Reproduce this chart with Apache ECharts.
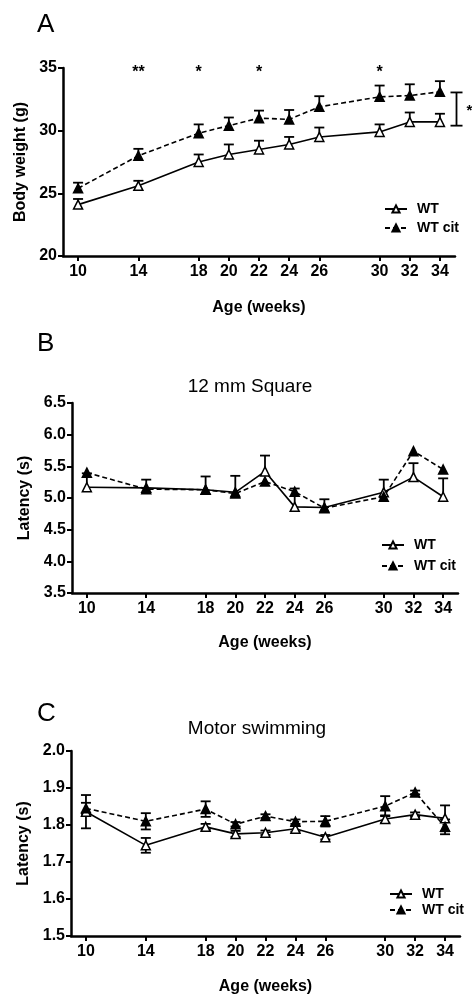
<!DOCTYPE html>
<html>
<head>
<meta charset="utf-8">
<script src="https://cdn.jsdelivr.net/npm/echarts@6/dist/echarts.min.js"></script>
<style>
  html, body { margin: 0; padding: 0; background: #fff; }
  #main { width: 472px; height: 997px; }
</style>
</head>
<body>
<div id="main"></div>
<script>
// ages (weeks)
var weeks = [10, 14, 18, 20, 22, 24, 26, 30, 32, 34];

// A: body weight (g)
var bwWT = [24.1, 25.6, 27.5, 28.1, 28.5, 28.9, 29.5, 29.9, 30.7, 30.7];
var bwWTErr = [0.45, 0.4, 0.6, 0.8, 0.7, 0.6, 0.75, 0.6, 0.75, 0.65];
var bwCit = [25.4, 28.0, 29.8, 30.4, 31.0, 30.9, 31.9, 32.7, 32.8, 33.1];
var bwCitErr = [0.45, 0.55, 0.7, 0.65, 0.6, 0.75, 0.85, 0.9, 0.9, 0.85];
var bwStars = [[14, 34.6, '**'], [18, 34.6, '*'], [22, 34.6, '*'], [30, 34.6, '*']];
var bwBracket = [35.1, 30.4, 33.05];

// B: 12 mm square latency (s)
var sqWT = [5.17, 5.16, 5.13, 5.09, 5.42, 4.86, 4.85, 5.09, 5.33, 5.02];
var sqWTErr = [0.22, 0.13, 0.21, 0.26, 0.25, 0.29, 0.13, 0.2, 0.22, 0.29];
var sqCit = [5.40, 5.14, 5.13, 5.07, 5.26, 5.10, 4.84, 5.02, 5.74, 5.45];
var sqCitErr = [0, 0, 0, 0, 0, 0, 0, 0, 0, 0];

// C: motor swimming latency (s)
var swWT = [1.836, 1.745, 1.795, 1.776, 1.779, 1.790, 1.767, 1.816, 1.828, 1.818];
var swWTErr = [0.045, 0.02, 0.008, 0.008, 0.006, 0.008, 0.006, 0.01, 0.006, 0.035];
var swCit = [1.845, 1.810, 1.843, 1.802, 1.824, 1.809, 1.810, 1.851, 1.888, 1.795];
var swCitErr = [0.015, 0.022, 0.021, 0.006, 0.005, 0.006, 0.014, 0.027, 0.005, 0.02];

var FONT = 'Liberation Sans, Arial, sans-serif';

function pairs(vals) {
  return weeks.map(function (w, i) { return [w, vals[i]]; });
}

function lineSeries(name, vals, idx, filled) {
  return {
    name: name,
    type: 'line',
    xAxisIndex: idx,
    yAxisIndex: idx,
    data: pairs(vals),
    symbol: 'triangle',
    symbolSize: 9,
    z: 5,
    lineStyle: { color: '#000', width: 1.6, type: filled ? [5, 3] : 'solid' },
    itemStyle: { color: filled ? '#000' : '#fff', borderColor: '#000', borderWidth: 1.5 }
  };
}

function errSeries(vals, errs, idx, both) {
  var data = weeks.map(function (w, i) { return [w, vals[i], errs[i]]; });
  return {
    type: 'custom',
    xAxisIndex: idx,
    yAxisIndex: idx,
    z: 3,
    silent: true,
    data: data,
    renderItem: function (params, api) {
      var e = api.value(2);
      if (!e) return null;
      var x = api.value(0), y = api.value(1);
      var top = api.coord([x, y + e]);
      var bot = api.coord([x, both ? y - e : y]);
      var hw = 5;
      var kids = [
        { type: 'line', shape: { x1: top[0], y1: top[1], x2: bot[0], y2: bot[1] } },
        { type: 'line', shape: { x1: top[0] - hw, y1: top[1], x2: top[0] + hw, y2: top[1] } }
      ];
      if (both) {
        kids.push({ type: 'line', shape: { x1: bot[0] - hw, y1: bot[1], x2: bot[0] + hw, y2: bot[1] } });
      }
      kids.forEach(function (k) { k.style = { stroke: '#000', lineWidth: 1.8 }; });
      return { type: 'group', children: kids };
    }
  };
}

function xAxisCfg(idx, gap) {
  return {
    type: 'value', gridIndex: idx, min: 9, max: 35,
    name: 'Age (weeks)', nameLocation: 'middle', nameGap: gap,
    nameTextStyle: { fontFamily: FONT, fontWeight: 'bold', fontSize: 16, color: '#000' },
    axisLine: { lineStyle: { color: '#000', width: 2.5 } },
    axisTick: { show: true, customValues: weeks, length: 5, lineStyle: { color: '#000', width: 2 } },
    axisLabel: { customValues: weeks, margin: 8, fontFamily: FONT, fontWeight: 'bold', fontSize: 16, color: '#000' },
    splitLine: { show: false }
  };
}

function yAxisCfg(idx, name, min, max, interval, gap, digits) {
  return {
    type: 'value', gridIndex: idx, min: min, max: max, interval: interval,
    name: name, nameLocation: 'middle', nameGap: gap,
    nameTextStyle: { fontFamily: FONT, fontWeight: 'bold', fontSize: 16, color: '#000' },
    axisLine: { show: true, lineStyle: { color: '#000', width: 2.5 } },
    axisTick: { show: true, length: 5, lineStyle: { color: '#000', width: 2 } },
    axisLabel: {
      margin: 6, fontFamily: FONT, fontWeight: 'bold', fontSize: 16, color: '#000',
      formatter: function (v) { return v.toFixed(digits); }
    },
    splitLine: { show: false }
  };
}

function legendCfg(left, top, gap) {
  return {
    orient: 'vertical', left: left, top: top,
    data: ['WT', 'WT cit'],
    itemWidth: 22, itemHeight: 9, itemGap: gap,
    selectedMode: false,
    textStyle: { fontFamily: FONT, fontWeight: 'bold', fontSize: 14, lineHeight: 14, color: '#000', padding: [0, 0, 0, 5] }
  };
}

var chart = echarts.init(document.getElementById('main'), null, { renderer: 'canvas' });

var option = {
  backgroundColor: '#fff',
  animation: false,
  title: [
    { text: '12 mm Square', left: 245, top: 372, textAlign: 'center',
      textStyle: { fontFamily: FONT, fontWeight: 'normal', fontSize: 19, color: '#000' } },
    { text: 'Motor swimming', left: 252, top: 714, textAlign: 'center',
      textStyle: { fontFamily: FONT, fontWeight: 'normal', fontSize: 19, color: '#000' } }
  ],
  graphic: [
    { type: 'text', left: 37, top: 12, style: { text: 'A', font: '26px ' + FONT, fill: '#000' } },
    { type: 'text', left: 37, top: 331, style: { text: 'B', font: '26px ' + FONT, fill: '#000' } },
    { type: 'text', left: 37, top: 701, style: { text: 'C', font: '26px ' + FONT, fill: '#000' } }
  ],
  legend: [
    legendCfg(379, 197, 5),
    legendCfg(376, 533, 7),
    legendCfg(384, 882, 2)
  ],
  grid: [
    { left: 63, top: 68, width: 392, height: 188 },
    { left: 72, top: 403, width: 386, height: 190 },
    { left: 71, top: 751, width: 389, height: 185 }
  ],
  xAxis: [xAxisCfg(0, 44), xAxisCfg(1, 42), xAxisCfg(2, 43)],
  yAxis: [
    yAxisCfg(0, 'Body weight (g)', 20, 35, 5, 34, 0),
    yAxisCfg(1, 'Latency (s)', 3.5, 6.5, 0.5, 38, 1),
    yAxisCfg(2, 'Latency (s)', 1.5, 2.0, 0.1, 39, 1)
  ],
  series: [
    errSeries(bwWT, bwWTErr, 0, false),
    errSeries(bwCit, bwCitErr, 0, false),
    lineSeries('WT', bwWT, 0, false),
    lineSeries('WT cit', bwCit, 0, true),
    {
      type: 'custom', xAxisIndex: 0, yAxisIndex: 0, silent: true,
      data: bwStars,
      renderItem: function (params, api) {
        var p = api.coord([api.value(0), api.value(1)]);
        return {
          type: 'text', x: p[0], y: p[1],
          style: {
            text: bwStars[params.dataIndex][2], font: 'bold 16px ' + FONT, fill: '#000',
            align: 'center', verticalAlign: 'middle'
          }
        };
      }
    },
    {
      type: 'custom', xAxisIndex: 0, yAxisIndex: 0, silent: true, clip: false,
      data: [bwBracket],
      renderItem: function (params, api) {
        var x = api.value(0);
        var lo = api.coord([x, api.value(1)]);
        var hi = api.coord([x, api.value(2)]);
        var s = { stroke: '#000', lineWidth: 1.8 };
        return {
          type: 'group', children: [
            { type: 'line', shape: { x1: lo[0], y1: lo[1], x2: hi[0], y2: hi[1] }, style: s },
            { type: 'line', shape: { x1: lo[0] - 6, y1: lo[1], x2: lo[0] + 6, y2: lo[1] }, style: s },
            { type: 'line', shape: { x1: hi[0] - 6, y1: hi[1], x2: hi[0] + 6, y2: hi[1] }, style: s },
            { type: 'text', x: lo[0] + 10, y: (lo[1] + hi[1]) / 2 - 6,
              style: { text: '*', font: 'bold 15px ' + FONT, fill: '#000' } }
          ]
        };
      }
    },

    errSeries(sqWT, sqWTErr, 1, false),
    errSeries(sqCit, sqCitErr, 1, false),
    lineSeries('WT', sqWT, 1, false),
    lineSeries('WT cit', sqCit, 1, true),

    errSeries(swWT, swWTErr, 2, true),
    errSeries(swCit, swCitErr, 2, true),
    lineSeries('WT', swWT, 2, false),
    lineSeries('WT cit', swCit, 2, true)
  ]
};

chart.setOption(option);
</script>
</body>
</html>
